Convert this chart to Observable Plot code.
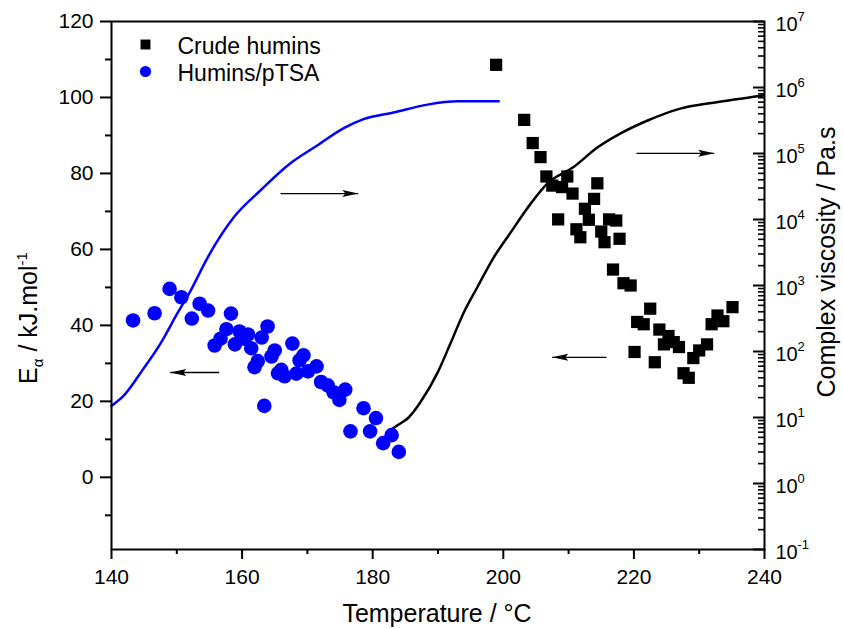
<!DOCTYPE html>
<html><head><meta charset="utf-8">
<script src="https://cdn.jsdelivr.net/npm/d3@7"></script>
<script src="https://cdn.jsdelivr.net/npm/@observablehq/plot@0.6"></script>
<style>
body{margin:0;background:#fff;}
#wrap{position:relative;width:843px;height:629px;}
</style></head><body><div id="wrap"></div>
<script>
// Crude humins: temperature (°C) and activation energy Eα (kJ/mol)
const crudeT = [198.9,203.2,204.5,205.7,206.6,209.8,207.5,209.0,210.6,214.4,213.9,212.5,208.4,213.1,216.2,217.3,211.2,211.8,215.0,215.5,217.8,216.8,218.4,219.5,222.5,220.5,221.5,223.9,225.3,226.1,224.6,226.9,220.1,223.2,227.6,228.4,229.1,230.0,231.2,231.9,232.8,233.7,235.1];
const crudeE = [108.6,94.1,88.0,84.3,79.2,79.2,76.8,76.4,74.7,77.4,73.3,70.7,67.9,67.8,67.9,67.6,65.3,63.2,64.7,61.9,62.8,54.7,51.1,50.5,44.4,40.9,40.3,38.9,37.2,35.6,35.0,34.3,33.0,30.3,27.4,26.2,31.4,33.4,35.0,40.3,42.6,41.1,44.8];
// Humins/pTSA
const ptsaT = [143.3,146.6,148.9,150.7,152.3,153.5,154.8,158.3,157.6,156.7,155.8,159.6,160.9,160.3,158.9,161.4,163.9,163.0,165.0,164.5,162.4,161.9,167.7,169.4,168.8,166.0,165.5,166.5,168.3,170.1,171.4,172.1,173.1,174.0,175.8,174.9,163.4,178.6,180.5,176.6,179.6,182.9,181.6,184.0];
const ptsaE = [41.3,43.2,49.6,47.4,41.8,45.7,43.9,43.1,39.0,36.5,34.7,38.4,37.6,36.5,35.0,34.0,39.7,36.8,33.4,31.8,30.6,29.0,35.2,32.1,30.8,28.3,27.4,26.6,27.3,27.9,29.2,25.1,24.2,22.4,23.1,20.4,18.8,18.2,15.6,12.1,12.1,11.1,9.0,6.7];
// Complex viscosity curves (Pa.s)
const ptsaViscT = [140,141.8,144.9,147.5,150.1,152.1,154.7,158.7,162.8,167.4,171.5,175.5,178.6,183.2,188.4,193.0,199.3];
const ptsaVisc = [15,21,55,132,380,830,2630,10700,27500,71000,132000,240000,331000,417000,550000,617000,617000];
const crudeViscT = [182.1,182.7,183.8,185.5,186.2,187.3,189.9,191.9,193.9,196.0,198.5,201.1,204.2,206.8,210.7,214.4,217.9,222.1,227.1,232.2,239.8];
const crudeVisc = [5.1,6.3,7.6,10,12,17,47,132,380,933,2630,6300,17400,35500,61700,123000,200000,316000,479000,589000,759000];
// Arrows (in Eα axis units)
const arrowX1 = [165.9,156.5,220.4,215.8];
const arrowX2 = [177.8,149.0,232.3,207.5];
const arrowE  = [74.7,27.6,85.3,31.6];
// Ticks
const xTicks = [140,160,180,200,220,240];
const xMinor = [150,170,190,210,230];
const yTicks = [0,20,40,60,80,100,120];
const yMinor = [-10,10,30,50,70,90,110];
const logExp = [-1,0,1,2,3,4,5,6,7];
const legendItems = ["Crude humins","Humins/pTSA"];

const crude = crudeT.map((t,i)=>({t, e:crudeE[i]}));
const ptsa = ptsaT.map((t,i)=>({t, e:ptsaE[i]}));
const ptsaV = ptsaViscT.map((t,i)=>({t, v:ptsaVisc[i]}));
const crudeV = crudeViscT.map((t,i)=>({t, v:crudeVisc[i]}));
const arrows = arrowX1.map((x1,i)=>({x1, x2:arrowX2[i], y:arrowE[i]}));
const logMajor = logExp.map(e=>Math.pow(10,e));
const logMinor = [];
for (let e=-1;e<7;e++) for (let k=2;k<=9;k++) logMinor.push(k*Math.pow(10,e));

const font = "'Liberation Sans', Arial, Helvetica, sans-serif";
const W = 843, H = 629, ML = 111, MR = 79;
const frameW = W - ML - MR;
const common = {
  width:W, height:H, marginTop:21, marginRight:MR, marginBottom:80, marginLeft:ML,
  style:{fontFamily:font, fontSize:"21px", background:"transparent", color:"black", overflow:"visible", position:"absolute", left:"0px", top:"0px"}
};
const headSymbol = {draw(ctx){ ctx.moveTo(0,0); ctx.lineTo(-16,-3.5); ctx.lineTo(-13,0); ctx.lineTo(-16,3.5); ctx.closePath(); }};

const plotA = Plot.plot({
  ...common,
  x:{domain:[140,240]},
  y:{domain:[-19,120]},
  marks:[
    Plot.link(arrows, {x1:"x1", x2:"x2", y1:"y", y2:"y", stroke:"black", strokeWidth:1.3}),
    Plot.dot(arrows, {x:"x2", y:"y", symbol:headSymbol, r:5, fill:"black", stroke:"none", rotate:d=>d.x2>d.x1?0:180}),
    Plot.dot(ptsa, {x:"t", y:"e", r:7.3, fill:"#0000ff", stroke:"none", symbol:"circle"}),
    Plot.dot(crude, {x:"t", y:"e", r:6.9, fill:"black", stroke:"none", symbol:"square"}),
    Plot.frame({stroke:"black", strokeWidth:2}),
    Plot.axisX({ticks:xTicks, tickSize:10, tickPadding:10, strokeWidth:2, fontSize:21, label:null}),
    Plot.axisX({ticks:xMinor, tickSize:5, tickFormat:()=>"", strokeWidth:2, label:null}),
    Plot.axisY({ticks:yTicks, tickSize:11, tickPadding:7, strokeWidth:2, fontSize:21, label:null}),
    Plot.axisY({ticks:yMinor, tickSize:6, tickFormat:()=>"", strokeWidth:2, label:null}),
    Plot.dot([legendItems[0]], {frameAnchor:"top-left", dx:34, dy:23, r:5.6, symbol:"square", fill:"black", stroke:"none"}),
    Plot.dot([legendItems[1]], {frameAnchor:"top-left", dx:34, dy:50, r:5.6, symbol:"circle", fill:"#0000ff", stroke:"none"}),
    Plot.text([legendItems[0]], {frameAnchor:"top-left", text:d=>d, dx:66, dy:32, textAnchor:"start", lineAnchor:"bottom", fontSize:23, fill:"black"}),
    Plot.text([legendItems[1]], {frameAnchor:"top-left", text:d=>d, dx:66, dy:59, textAnchor:"start", lineAnchor:"bottom", fontSize:23, fill:"black"})
  ]
});

// Right-hand log scale overlay (viscosity curves and right axis), drawn under the points
const plotB = Plot.plot({
  ...common,
  x:{domain:[140,240], axis:null},
  y:{type:"log", domain:[0.1,1e7], axis:null},
  marks:[
    Plot.line(ptsaV, {x:"t", y:"v", stroke:"#0000ff", strokeWidth:2.5, curve:"monotone-x"}),
    Plot.line(crudeV, {x:"t", y:"v", stroke:"black", strokeWidth:2.5, curve:"monotone-x"}),
    Plot.tickY(logMinor, {y:d=>d, insetLeft:frameW-6, stroke:"black", strokeWidth:1.6}),
    Plot.tickY(logMajor, {y:d=>d, insetLeft:frameW-11, stroke:"black", strokeWidth:2}),
    Plot.text(logMajor, {y:d=>d, frameAnchor:"right", text:()=>"10", textAnchor:"start", lineAnchor:"bottom", dx:11, dy:9, fontSize:20, fill:"black"}),
    Plot.text(logMajor, {y:d=>d, frameAnchor:"right", text:d=>String(Math.round(Math.log10(d))), textAnchor:"start", lineAnchor:"bottom", dx:33, dy:-1, fontSize:13, fill:"black"})
  ]
});

const wrap = document.getElementById("wrap");
wrap.appendChild(plotB);
wrap.appendChild(plotA);

const svgA = d3.select(plotA);
svgA.append("text").attr("x",437).attr("y",622).attr("text-anchor","middle")
  .style("font-family",font).style("font-size","25px").attr("fill","black").text("Temperature / °C");
const lt = svgA.append("text").attr("transform","translate(37,318) rotate(-90)").attr("text-anchor","middle")
  .style("font-family",font).style("font-size","25px").attr("fill","black");
lt.append("tspan").text("E");
lt.append("tspan").attr("dy",6).style("font-size","15px").text("α");
lt.append("tspan").attr("dy",-6).text(" / kJ.mol");
lt.append("tspan").attr("dy",-10).style("font-size","15px").text("-1");
svgA.append("text").attr("transform","translate(835,262) rotate(-90)").attr("text-anchor","middle")
  .style("font-family",font).style("font-size","25px").attr("fill","black").text("Complex viscosity / Pa.s");
</script></body></html>
